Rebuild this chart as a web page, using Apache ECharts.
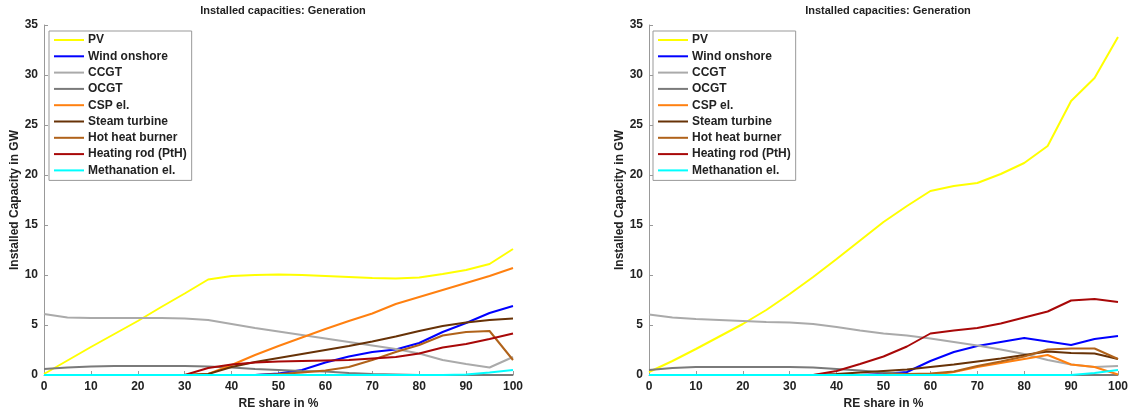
<!DOCTYPE html>
<html>
<head>
<meta charset="utf-8">
<script src="https://cdn.jsdelivr.net/npm/echarts@6/dist/echarts.min.js"></script>
<style>
  html, body { margin: 0; padding: 0; background: #fff; }
  #chart { width: 1132px; height: 410px; }
</style>
</head>
<body>
<div id="chart"></div>
<script>
// RE share in % (x values)
const reShare = [0, 5, 10, 15, 20, 25, 30, 35, 40, 45, 50, 55, 60, 65, 70, 75, 80, 85, 90, 95, 100];

const names = ["PV", "Wind onshore", "CCGT", "OCGT", "CSP el.", "Steam turbine",
  "Hot heat burner", "Heating rod (PtH)", "Methanation el."];
const colors = ["#ffff00", "#0000ff", "#aaaaaa", "#7a7a7a", "#ff8010", "#673207",
  "#b0621a", "#a80808", "#00ffff"];

// left scenario, GW
const leftPV      = [0.1, 1.45, 2.8, 4.1, 5.4, 6.8, 8.15, 9.55, 9.9, 10.0, 10.05, 10.0, 9.9, 9.8, 9.7, 9.65, 9.75, 10.1, 10.5, 11.1, 12.6];
const leftWind    = [0, 0, 0, 0, 0, 0, 0, 0, 0, 0, 0.15, 0.5, 1.25, 1.85, 2.3, 2.55, 3.2, 4.3, 5.2, 6.2, 6.9];
const leftCCGT    = [6.1, 5.75, 5.7, 5.7, 5.7, 5.7, 5.65, 5.5, 5.1, 4.7, 4.35, 4.0, 3.65, 3.3, 2.95, 2.6, 2.15, 1.5, 1.1, 0.75, 1.8];
const leftOCGT    = [0.6, 0.75, 0.85, 0.9, 0.9, 0.9, 0.9, 0.85, 0.75, 0.6, 0.5, 0.4, 0.35, 0.2, 0.1, 0.05, 0, 0, 0, 0, 0];
const leftCSP     = [0, 0, 0, 0, 0, 0, 0, 0.1, 1.0, 2.0, 2.9, 3.75, 4.6, 5.4, 6.15, 7.1, 7.8, 8.5, 9.2, 9.9, 10.7];
const leftSteam   = [0, 0, 0, 0, 0, 0, 0, 0.1, 0.8, 1.3, 1.7, 2.1, 2.5, 2.9, 3.35, 3.85, 4.4, 4.9, 5.25, 5.5, 5.65];
const leftBurner  = [0, 0, 0, 0, 0, 0, 0, 0, 0, 0, 0.1, 0.25, 0.45, 0.8, 1.5, 2.3, 3.0, 3.95, 4.3, 4.4, 1.5];
const leftRod     = [0, 0, 0, 0, 0, 0, 0, 0.7, 1.05, 1.25, 1.35, 1.4, 1.45, 1.5, 1.65, 1.8, 2.15, 2.75, 3.1, 3.6, 4.15];
const leftMeth    = [0, 0, 0, 0, 0, 0, 0, 0, 0, 0, 0, 0, 0, 0, 0, 0, 0, 0, 0.05, 0.25, 0.5];

// right scenario, GW
const rightPV     = [0.3, 1.4, 2.6, 3.85, 5.1, 6.5, 8.1, 9.8, 11.6, 13.45, 15.3, 16.9, 18.4, 18.9, 19.2, 20.1, 21.2, 22.9, 27.4, 29.7, 33.8];
const rightWind   = [0, 0, 0, 0, 0, 0, 0, 0, 0, 0, 0.1, 0.3, 1.4, 2.3, 2.9, 3.3, 3.7, 3.35, 3.0, 3.6, 3.9];
const rightCCGT   = [6.05, 5.75, 5.6, 5.5, 5.4, 5.3, 5.25, 5.1, 4.8, 4.45, 4.15, 3.95, 3.65, 3.3, 2.95, 2.55, 2.1, 1.5, 1.05, 0.8, 0.9];
const rightOCGT   = [0.5, 0.7, 0.8, 0.8, 0.8, 0.8, 0.8, 0.75, 0.6, 0.45, 0.25, 0.1, 0.05, 0, 0, 0, 0, 0, 0, 0, 0];
const rightCSP    = [0, 0, 0, 0, 0, 0, 0, 0, 0, 0, 0, 0, 0, 0.3, 0.8, 1.2, 1.6, 2.0, 1.05, 0.8, 0.05];
const rightSteam  = [0, 0, 0, 0, 0, 0, 0, 0, 0.1, 0.25, 0.4, 0.55, 0.8, 1.05, 1.35, 1.65, 2.0, 2.35, 2.2, 2.15, 1.6];
const rightBurner = [0, 0, 0, 0, 0, 0, 0, 0, 0, 0, 0.05, 0.1, 0.15, 0.35, 0.9, 1.35, 1.85, 2.55, 2.65, 2.65, 1.6];
const rightRod    = [0, 0, 0, 0, 0, 0, 0, 0, 0.4, 1.1, 1.85, 2.85, 4.15, 4.45, 4.7, 5.15, 5.75, 6.35, 7.45, 7.6, 7.3];
const rightMeth   = [0, 0, 0, 0, 0, 0, 0, 0, 0, 0, 0, 0, 0, 0, 0, 0, 0, 0, 0, 0.2, 0.5];

const leftData = [leftPV, leftWind, leftCCGT, leftOCGT, leftCSP, leftSteam, leftBurner, leftRod, leftMeth];
const rightData = [rightPV, rightWind, rightCCGT, rightOCGT, rightCSP, rightSteam, rightBurner, rightRod, rightMeth];

const yTicks = [0, 5, 10, 15, 20, 25, 30, 35];
const xTicks = [0, 10, 20, 30, 40, 50, 60, 70, 80, 90, 100];

const FONT = "Liberation Sans";
const textColor = "#222";
const axisGray = "#999";

function makeX(gridIndex) {
  return {
    type: "value",
    gridIndex: gridIndex,
    min: xTicks[0],
    max: xTicks[xTicks.length - 1],
    interval: 10,
    name: "RE share in %",
    nameLocation: "middle",
    nameGap: 20,
    nameTextStyle: { fontFamily: FONT, fontSize: 12, fontWeight: "bold", color: textColor },
    axisLine: { show: true, lineStyle: { color: axisGray, width: 1 } },
    axisTick: { show: true, inside: true, length: 4, lineStyle: { color: axisGray } },
    axisLabel: { margin: 6, fontFamily: FONT, fontSize: 12, fontWeight: "bold", color: textColor },
    splitLine: { show: false },
  };
}

function makeY(gridIndex) {
  return {
    type: "value",
    gridIndex: gridIndex,
    min: yTicks[0],
    max: yTicks[yTicks.length - 1],
    interval: 5,
    name: "Installed Capacity in GW",
    nameLocation: "middle",
    nameRotate: 90,
    nameGap: 18,
    nameTextStyle: { fontFamily: FONT, fontSize: 12, fontWeight: "bold", color: textColor },
    axisLine: { show: true, lineStyle: { color: axisGray, width: 1 } },
    axisTick: { show: true, inside: true, length: 4, lineStyle: { color: axisGray } },
    axisLabel: { margin: 6, fontFamily: FONT, fontSize: 12, fontWeight: "bold", color: textColor },
    splitLine: { show: false },
  };
}

function makeLegend(left) {
  return {
    orient: "vertical",
    left: left,
    top: 31,
    data: names,
    icon: "rect",
    itemWidth: 30,
    itemHeight: 2,
    itemGap: 0.3,
    padding: [1, 5, 2, 5],
    borderColor: "#999",
    borderWidth: 1,
    backgroundColor: "#fff",
    selectedMode: false,
    textStyle: { fontFamily: FONT, fontSize: 12, lineHeight: 16, fontWeight: "bold", color: textColor, padding: [0, 0, 0, -1] },
  };
}

function makeSeries(dataSets, idx) {
  return names.map((name, i) => ({
    name: name,
    type: "line",
    xAxisIndex: idx,
    yAxisIndex: idx,
    symbol: "none",
    smooth: false,
    lineStyle: { color: colors[i], width: 2 },
    itemStyle: { color: colors[i] },
    data: reShare.map((x, k) => [x, dataSets[i][k]]),
  }));
}

const chart = echarts.init(document.getElementById("chart"), null, { renderer: "canvas" });

const titleStyle = { fontFamily: FONT, fontSize: 11, fontWeight: "bold", color: textColor };

chart.setOption({
  animation: false,
  backgroundColor: "#fff",
  title: [
    { text: "Installed capacities: Generation", left: 278, top: 0, textAlign: "center", textStyle: titleStyle },
    { text: "Installed capacities: Generation", left: 883, top: 0, textAlign: "center", textStyle: titleStyle },
  ],
  legend: [makeLegend(49), makeLegend(653)],
  grid: [
    { left: 44, right: 619, top: 25, bottom: 35, containLabel: false, outerBoundsMode: "none" },
    { left: 649, right: 14, top: 25, bottom: 35, containLabel: false, outerBoundsMode: "none" },
  ],
  xAxis: [makeX(0), makeX(1)],
  yAxis: [makeY(0), makeY(1)],
  series: makeSeries(leftData, 0).concat(makeSeries(rightData, 1)),
});
</script>
</body>
</html>
